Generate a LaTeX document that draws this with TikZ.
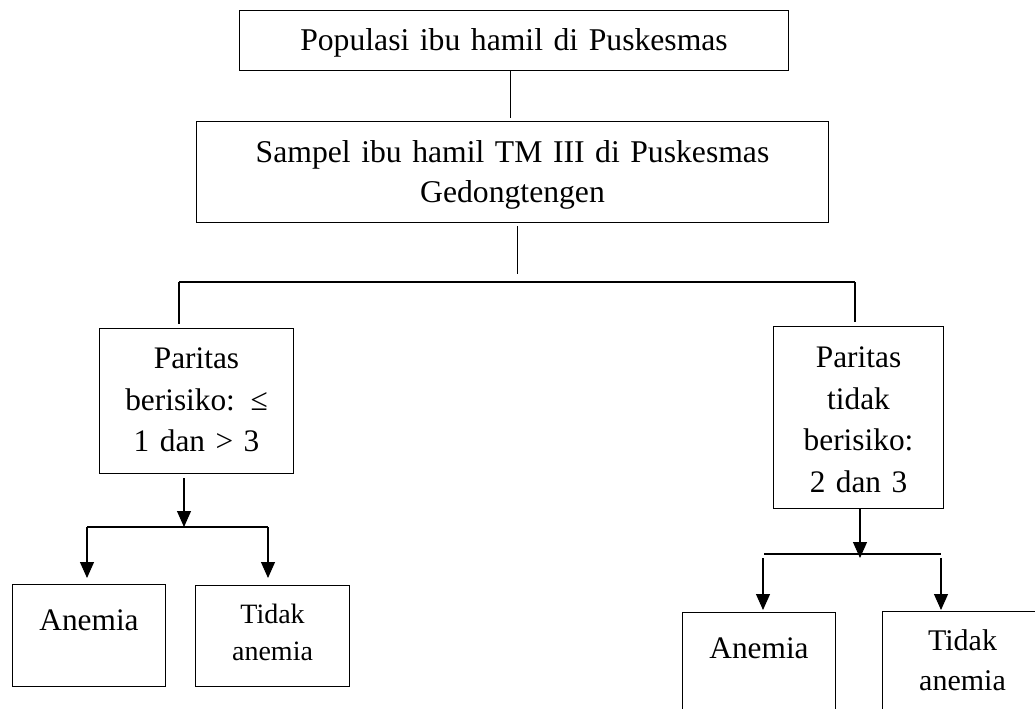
\documentclass[tikz,border=0pt]{standalone}
\usepackage{fontspec}
\setmainfont{Liberation Serif}
\usetikzlibrary{arrows.meta,calc}
\tikzset{
  box/.style={draw,line width=0.8pt,inner sep=0pt,align=center,anchor=north west,font=\fontsize{23.5}{31.25}\selectfont},
  topbox/.style={box,font=\fontsize{23.75}{30}\selectfont},
  arr/.style={-{Triangle[width=10.5pt,length=12pt]}},
}
\begin{document}
\begin{tikzpicture}[x=0.75pt,y=-0.75pt,line width=0.8pt]
\useasboundingbox (0,0) rectangle (1035,708);
\clip (0,0) rectangle (1035,708);
\node[topbox,text width=411.75pt,text height=30pt,text depth=15pt] (pop) at (239,10) {Populasi ibu hamil di Puskesmas};
\node[topbox,text width=474pt,text height=30.75pt,text depth=45pt] (sampel) at (196,121) {Sampel ibu hamil TM III di Puskesmas\\Gedongtengen};
\node[box,text width=145.5pt,text height=30pt,text depth=78.75pt] (parL) at (99,328) {Paritas\\berisiko: ≤\\1 dan > 3};
\node[box,text width=127.5pt,text height=30.75pt,text depth=105.75pt] (parR) at (773,326) {Paritas\\tidak\\berisiko:\\2 dan 3};
\node[box,text width=114.75pt,text height=34.5pt,text depth=42pt] (anL) at (12,584) {Anemia};
\node[box,text width=115.5pt,text height=28.5pt,text depth=47.25pt,font=\fontsize{21}{28}\selectfont] (tiL) at (195,585) {Tidak\\anemia};
\node[box,text width=114.75pt,text height=34.5pt,text depth=42pt] (anR) at (682,612) {Anemia};
\node[box,text width=120pt,text height=29.25pt,text depth=47.25pt,font=\fontsize{22.5}{30}\selectfont] (tiR) at (882,611) {Tidak\\anemia};
\coordinate (hub) at (517.5,282);
\coordinate (barL) at (179,282);
\coordinate (barR) at (855,282);
\coordinate (forkL) at (184,527);
\coordinate (forkLa) at (87,527);
\coordinate (forkLb) at (268,527);
\coordinate (forkR) at (860,558);
\coordinate (forkRa) at (763,554);
\coordinate (forkRb) at (941,554);
\draw ($(pop.south)+(-4,0)$) -- ($(sampel.north)+(-2.5,-3)$);
\draw ($(sampel.south -| hub)+(0,3)$) -- ($(hub)+(0,-8)$);
\draw (barL) -- (barR);
\draw (barL) -- ($(parL.north -| barL)+(0,-4)$);
\draw (barR) -- ($(parR.north -| barR)+(0,-4)$);
\draw[arr] ($(parL.south -| forkL)+(0,4)$) -- (forkL);
\draw (forkLa) -- (forkLb);
\draw[arr] (forkLa) -- ($(anL.north -| forkLa)+(0,-6)$);
\draw[arr] (forkLb) -- ($(tiL.north -| forkLb)+(0,-7)$);
\draw[arr] (parR.south -| forkR) -- (forkR);
\draw ($(forkRa)+(1,0)$) -- (forkRb);
\draw[arr] ($(forkRa)+(0,4)$) -- ($(anR.north -| forkRa)+(0,-2)$);
\draw[arr] ($(forkRb)+(0,4)$) -- ($(tiR.north -| forkRb)+(0,-1)$);
\end{tikzpicture}
\end{document}
